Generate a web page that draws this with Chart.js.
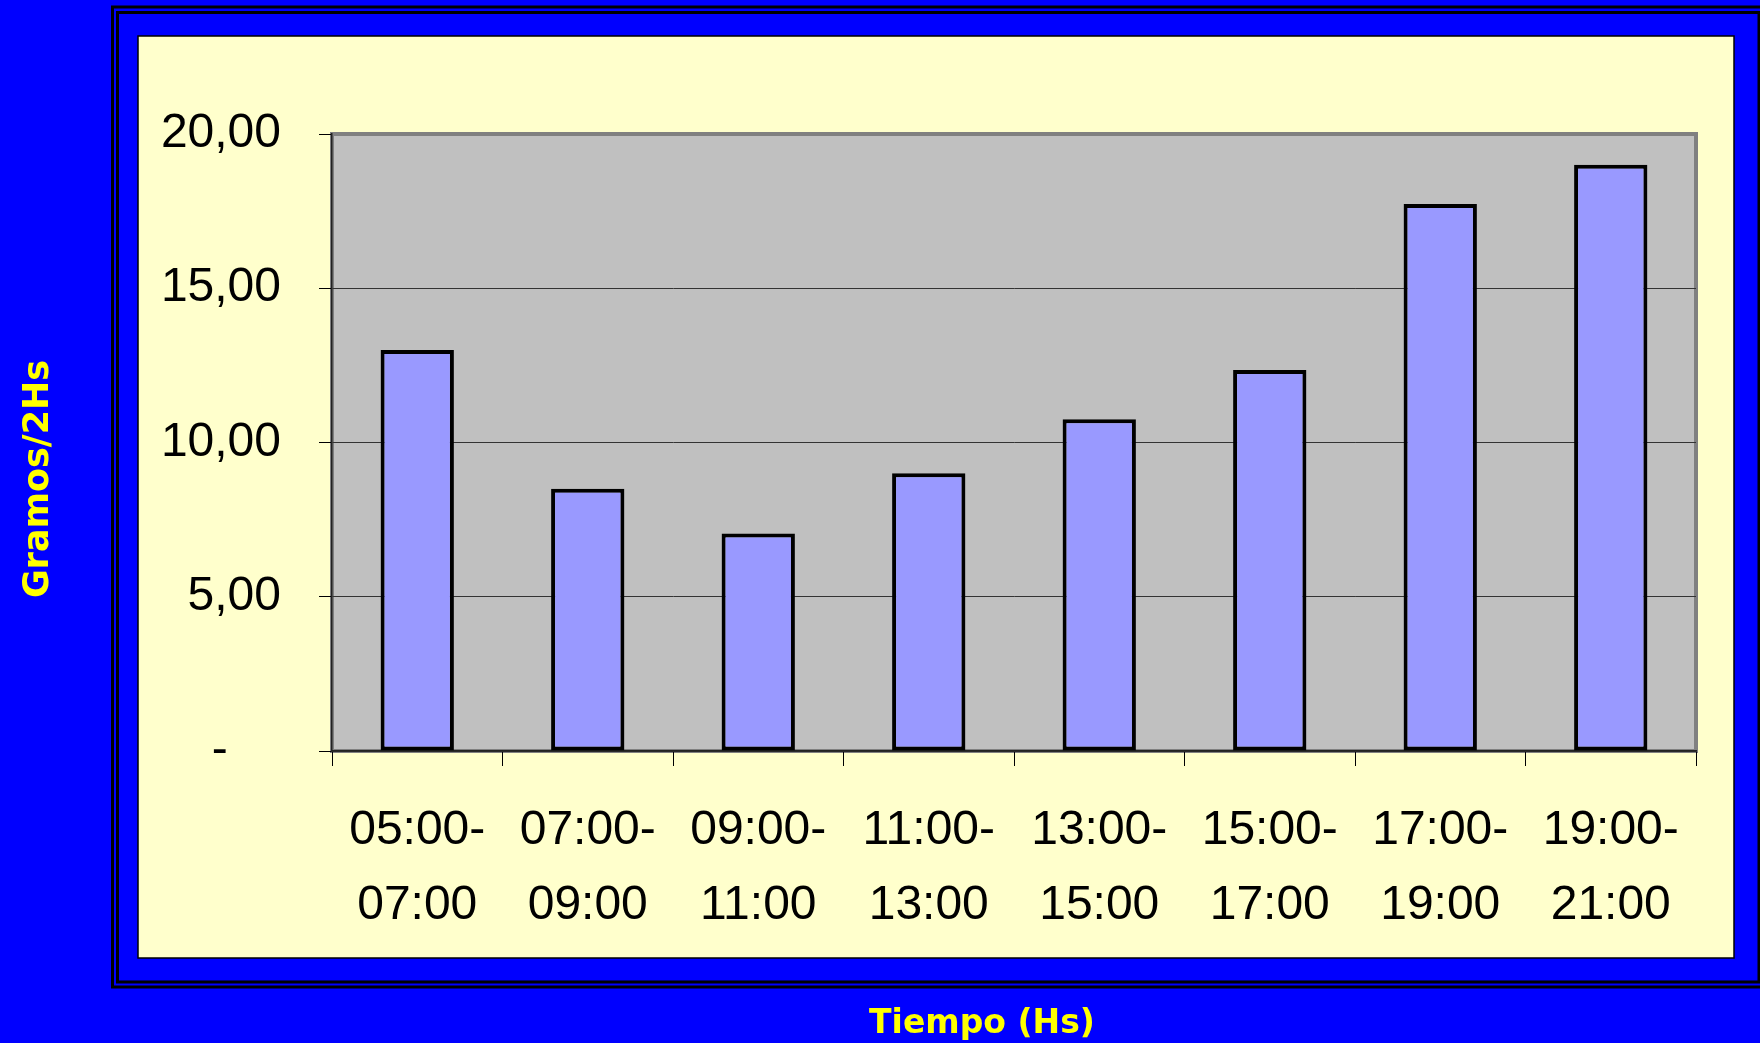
<!DOCTYPE html>
<html>
<head>
<meta charset="utf-8">
<script src="https://cdn.jsdelivr.net/npm/chart.js@4"></script>
<style>
  html, body { margin: 0; padding: 0; background: #0000ff; }
  canvas { display: block; }
</style>
</head>
<body>
<canvas id="gramosChart" width="1760" height="1043"></canvas>
<script>
// Franjas horarias (dos lineas por etiqueta)
const franjas = [
  ["05:00-", "07:00"],
  ["07:00-", "09:00"],
  ["09:00-", "11:00"],
  ["11:00-", "13:00"],
  ["13:00-", "15:00"],
  ["15:00-", "17:00"],
  ["17:00-", "19:00"],
  ["19:00-", "21:00"]
];
// Gramos cada 2 horas
const gramos = [13.0, 8.5, 7.05, 9.0, 10.75, 12.35, 17.73, 19.0];
const yTicks = [0, 5, 10, 15, 20];
const yTitle = "Gramos/2Hs";
const xTitle = "Tiempo (Hs)";

(function () {
  const canvas = document.getElementById("gramosChart");
  const ctx = canvas.getContext("2d");

  const tickFont = { family: "'Liberation Sans', Arial, sans-serif", size: 48, lineHeight: 1.56 };

  // fondo azul, doble marco, panel amarillo y area gris del grafico
  const decor = {
    id: "decor",
    beforeDraw(chart) {
      const c = chart.ctx;
      const a = chart.chartArea;
      c.save();
      c.fillStyle = "#0000ff";
      c.fillRect(0, 0, chart.width, chart.height);

      c.strokeStyle = "#000000";
      c.lineWidth = 3;
      c.strokeRect(112.5, 7, 1660, 980);
      c.strokeRect(117.5, 12.5, 1641.5, 969.5);

      c.fillStyle = "#ffffcc";
      c.fillRect(138, 36, 1596, 922);
      c.lineWidth = 1.5;
      c.strokeRect(138, 36, 1596, 922);

      c.fillStyle = "#c0c0c0";
      c.fillRect(a.left, a.top, a.right - a.left, a.bottom - a.top);
      c.strokeStyle = "#808080";
      c.lineWidth = 4;
      c.strokeRect(a.left, a.top, a.right - a.left, a.bottom - a.top);
      c.restore();
    },
    afterDraw(chart) {
      const c = chart.ctx;
      c.save();
      c.fillStyle = "#ffff00";
      c.textAlign = "center";
      c.textBaseline = "alphabetic";
      c.font = "bold 33px 'DejaVu Sans', Verdana, sans-serif";
      c.fillText(xTitle, 982, 1033);
      c.font = "bold 35px 'DejaVu Sans', Verdana, sans-serif";
      c.translate(48, 479);
      c.rotate(-Math.PI / 2);
      c.fillText(yTitle, 0, 0);
      c.restore();
    }
  };

  new Chart(ctx, {
    type: "bar",
    data: {
      labels: franjas,
      datasets: [
        {
          data: gramos,
          backgroundColor: "#9999ff",
          borderColor: "#000000",
          borderWidth: 4,
          borderSkipped: false,
          barPercentage: 0.43,
          categoryPercentage: 1
        }
      ]
    },
    options: {
      responsive: false,
      animation: false,
      layout: {
        padding: { left: 0, top: 134, right: 64, bottom: 0 }
      },
      plugins: {
        legend: { display: false },
        tooltip: { enabled: false }
      },
      scales: {
        x: {
          grid: {
            offset: true,
            drawOnChartArea: false,
            tickLength: 15,
            tickColor: "#000000"
          },
          border: { color: "#222222", width: 1.5 },
          ticks: {
            color: "#000000",
            font: tickFont,
            padding: 27,
            maxRotation: 0,
            autoSkip: false
          },
          afterFit(scale) {
            scale.height = 292;
          }
        },
        y: {
          min: 0,
          max: 20,
          afterBuildTicks(scale) {
            scale.ticks = yTicks.map((v) => ({ value: v }));
          },
          grid: {
            color: (c) =>
              c.tick && c.tick.value === 20 ? "rgba(0,0,0,0)" : "#333333",
            lineWidth: 1,
            tickLength: 13,
            tickColor: "#000000"
          },
          border: { color: "#222222", width: 1.5 },
          ticks: {
            color: "#000000",
            font: { family: "'Liberation Sans', Arial, sans-serif", size: 48 },
            padding: 38,
            callback: function (v) {
              if (v === 0) {
                return "-    ";
              }
              return v.toFixed(2).replace(".", ",");
            }
          },
          afterFit(scale) {
            scale.width = 332;
          }
        }
      }
    },
    plugins: [decor]
  });
})();
</script>
</body>
</html>
